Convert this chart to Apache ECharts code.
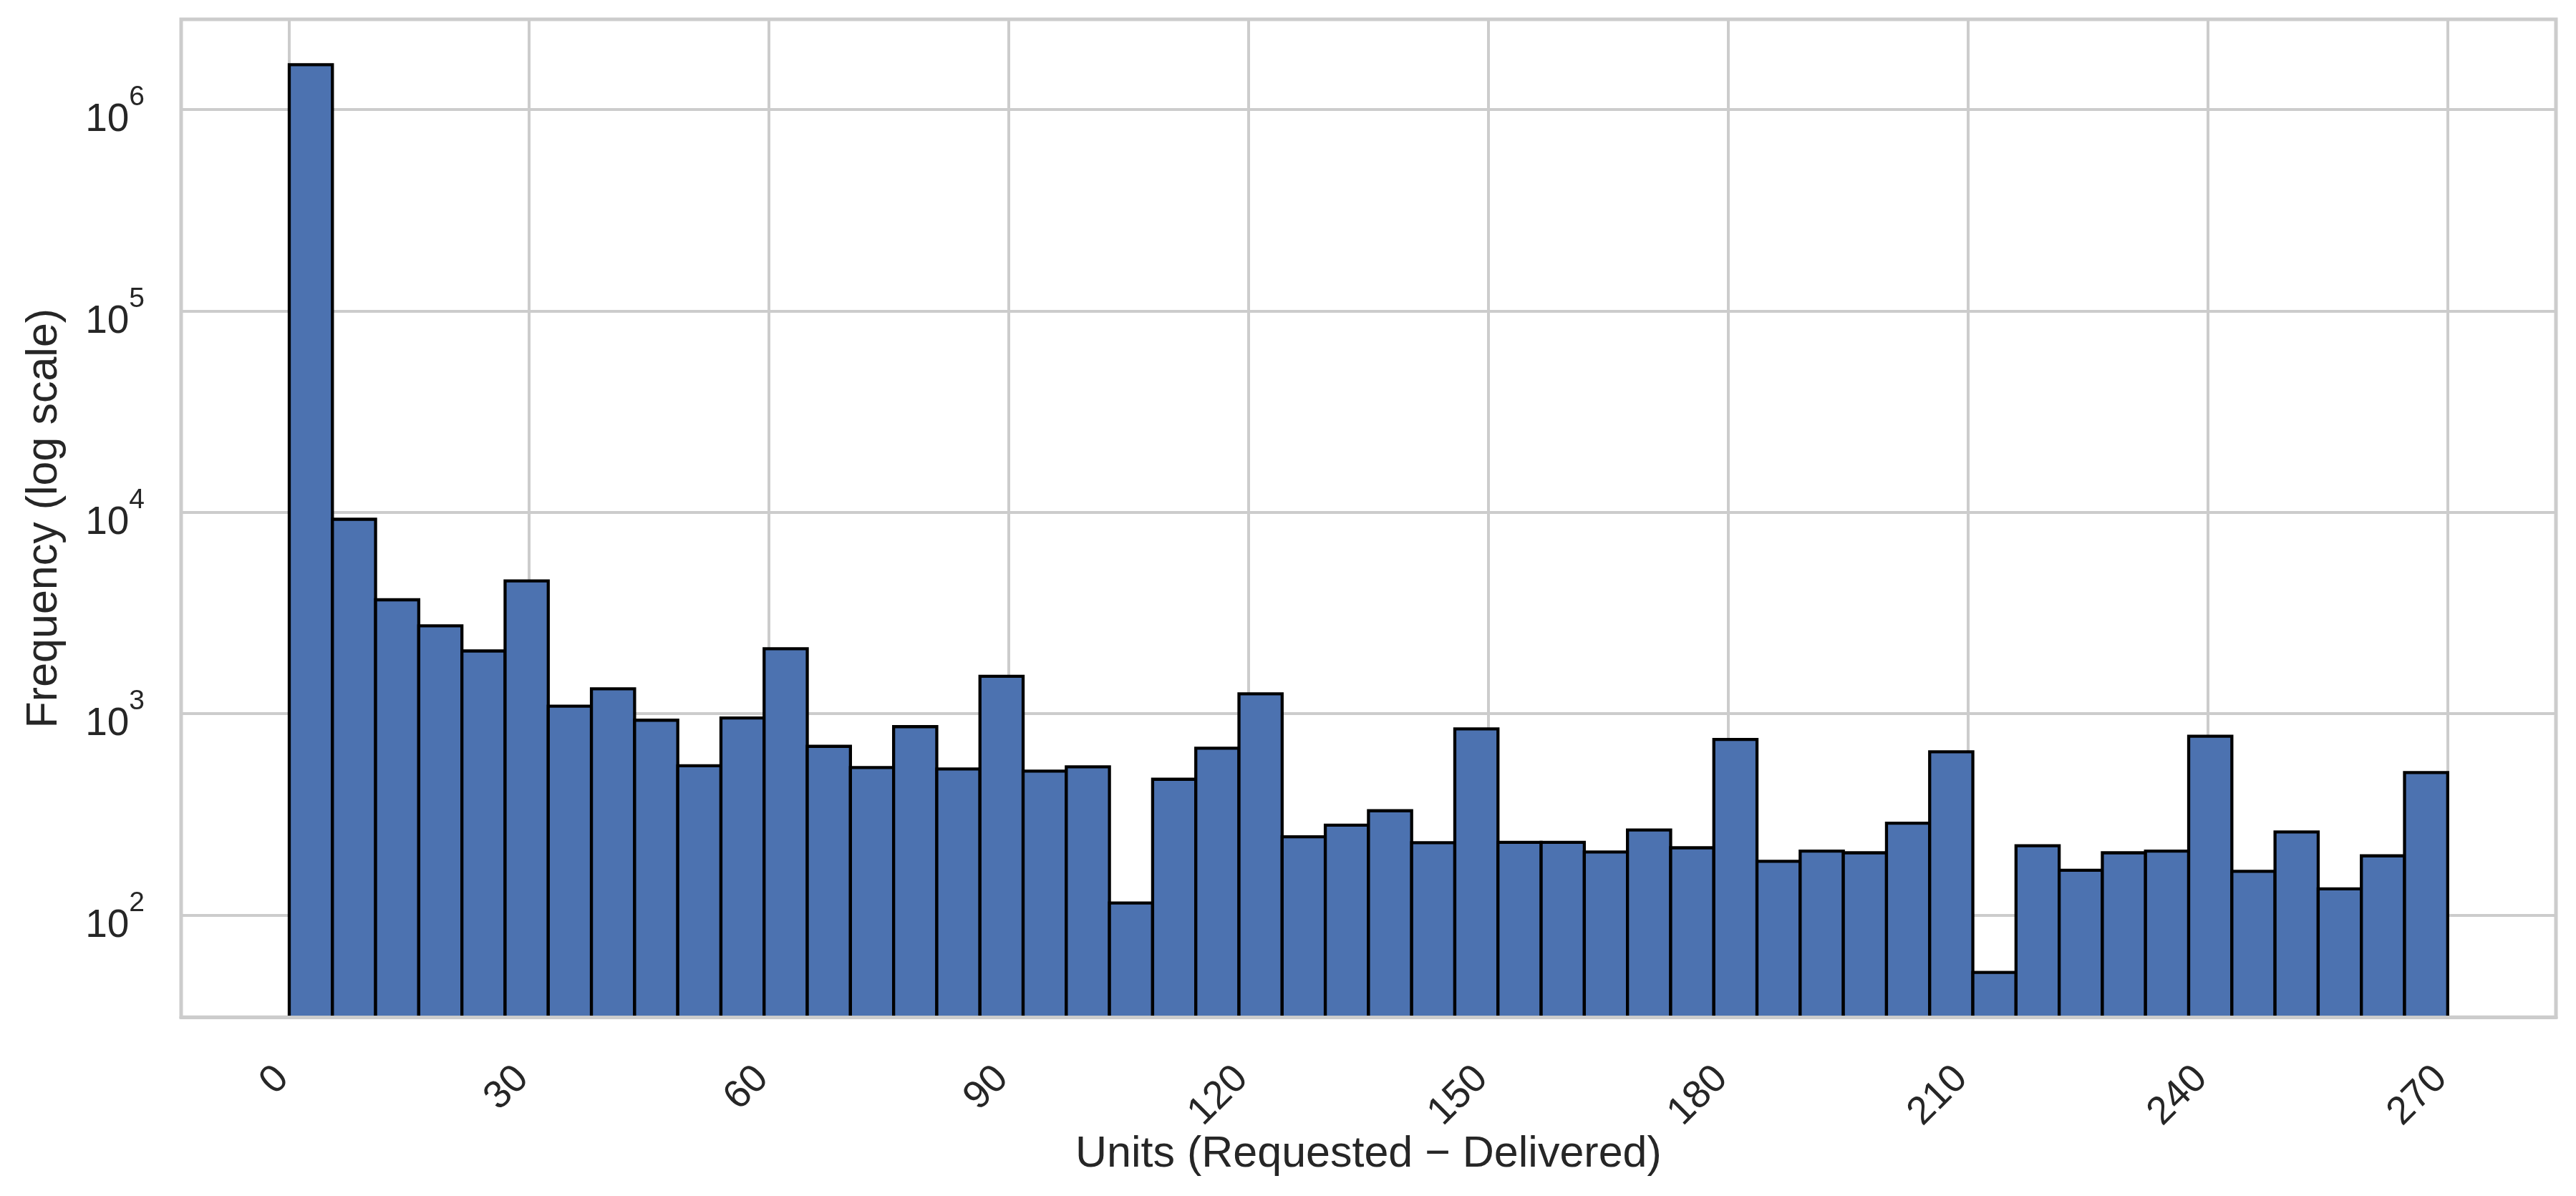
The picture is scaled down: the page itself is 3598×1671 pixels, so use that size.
<!DOCTYPE html>
<html>
<head>
<meta charset="utf-8">
<script src="https://cdn.jsdelivr.net/npm/echarts@6/dist/echarts.min.js"></script>
<style>
html,body{margin:0;padding:0;background:#ffffff;}
#chart{width:3598px;height:1671px;}
</style>
</head>
<body>
<div id="chart"></div>
<script>
// ---- data ----
const binStart = 0;
const binWidth = 5.4;           // 50 bins over 0..270
const counts = [
  1670000, 9240, 3680, 2735, 2050, 4570, 1090, 1330, 929, 552,
  953, 2103, 689, 541, 863, 532, 1535, 519, 545, 115,
  473, 674, 1257, 245, 280, 330, 229, 841, 230, 230,
  206, 265, 216, 745, 185, 208, 204, 286, 647, 52,
  221, 167, 204, 208, 774, 165, 259, 135, 197, 511
];
const xTickMin = 0;
const xTickMax = 270;
const xTickStep = 30;
const xViewMin = -13.5;
const xViewMax = 283.5;
const yMinExp = 1.493;
const yMaxExp = 6.448;
const xTitle = 'Units (Requested \u2212 Delivered)';
const yTitle = 'Frequency (log scale)';

// ---- styling ----
const FONT = '"Liberation Sans", Arial, Helvetica, sans-serif';
const TEXT = '#262626';
const GRIDC = '#cccccc';
const BAR = '#4c72b0';

const yMin = Math.pow(10, yMinExp);
const yMax = Math.pow(10, yMaxExp);

const histData = counts.map((c, i) => [binStart + i * binWidth, binStart + (i + 1) * binWidth, c]);

const chart = echarts.init(document.getElementById('chart'), null, {renderer: 'canvas'});

const option = {
  animation: false,
  backgroundColor: '#ffffff',
  textStyle: {fontFamily: FONT, color: TEXT},
  grid: [
    {left: 253, right: 28, top: 27, bottom: 249.7, show: true, borderColor: GRIDC, borderWidth: 5,
     backgroundColor: 'transparent', containLabel: false, outerBoundsMode: 'none'},
    {left: 404, right: 179.2, top: 27, bottom: 249.7, containLabel: false, outerBoundsMode: 'none'}
  ],
  xAxis: [
    {
      gridIndex: 0, type: 'value', min: xViewMin, max: xViewMax, z: 10,
      axisLine: {show: true, onZero: false, lineStyle: {color: GRIDC, width: 5}},
      axisTick: {show: false}, axisLabel: {show: false}, splitLine: {show: false}
    },
    {
      gridIndex: 1, type: 'value', min: xTickMin, max: xTickMax, interval: xTickStep,
      axisLine: {show: false}, axisTick: {show: false},
      splitLine: {show: true, lineStyle: {color: GRIDC, width: 4}},
      axisLabel: {
        rotate: 45, margin: 68, fontSize: 55, color: TEXT, fontFamily: FONT,
        padding: [0, 13.3, 26.6, 0]
      },
      name: xTitle, nameLocation: 'middle', nameGap: 161, nameMoveOverlap: false,
      nameTextStyle: {fontSize: 61, color: TEXT, fontFamily: FONT}
    }
  ],
  yAxis: [
    {
      gridIndex: 0, type: 'log', logBase: 10, min: yMin, max: yMax,
      axisLine: {show: false}, axisTick: {show: false},
      minorTick: {show: false}, minorSplitLine: {show: false},
      splitLine: {show: true, lineStyle: {color: GRIDC, width: 4}},
      axisLabel: {
        margin: 51, padding: [30, 0, 0, 0], fontSize: 55, color: TEXT, fontFamily: FONT,
        formatter: function (v) {
          const e = Math.log10(v);
          const r = Math.round(e);
          if (Math.abs(e - r) > 1e-6) return '';
          return '{b|10}{s|' + r + '}';
        },
        rich: {
          b: {fontSize: 55, lineHeight: 102, color: TEXT, fontFamily: FONT},
          s: {fontSize: 39, lineHeight: 39, verticalAlign: 'top', color: TEXT, fontFamily: FONT}
        }
      },
      name: yTitle, nameLocation: 'middle', nameGap: 160, nameMoveOverlap: false,
      nameTextStyle: {fontSize: 61, color: TEXT, fontFamily: FONT}
    },
    {gridIndex: 1, type: 'log', logBase: 10, min: yMin, max: yMax, show: false}
  ],
  series: [
    {
      type: 'custom', xAxisIndex: 1, yAxisIndex: 1, z: 2,
      data: histData,
      renderItem: function (params, api) {
        const x0 = api.value(0), x1 = api.value(1), v = api.value(2);
        const pt = api.coord([x0, v]);
        const pb = api.coord([x1, yMin]);
        const w = pb[0] - pt[0];
        const h = pb[1] - pt[1];
        return {
          type: 'group',
          children: [
            {type: 'rect', shape: {x: pt[0], y: pt[1], width: w, height: h}, style: {fill: BAR, stroke: null}},
            {type: 'polyline', shape: {points: [[pt[0], pb[1]], [pt[0], pt[1]], [pb[0], pt[1]], [pb[0], pb[1]]]},
             style: {stroke: '#000000', lineWidth: 4.3, fill: null}}
          ]
        };
      }
    }
  ]
};
chart.setOption(option);
</script>
</body>
</html>
